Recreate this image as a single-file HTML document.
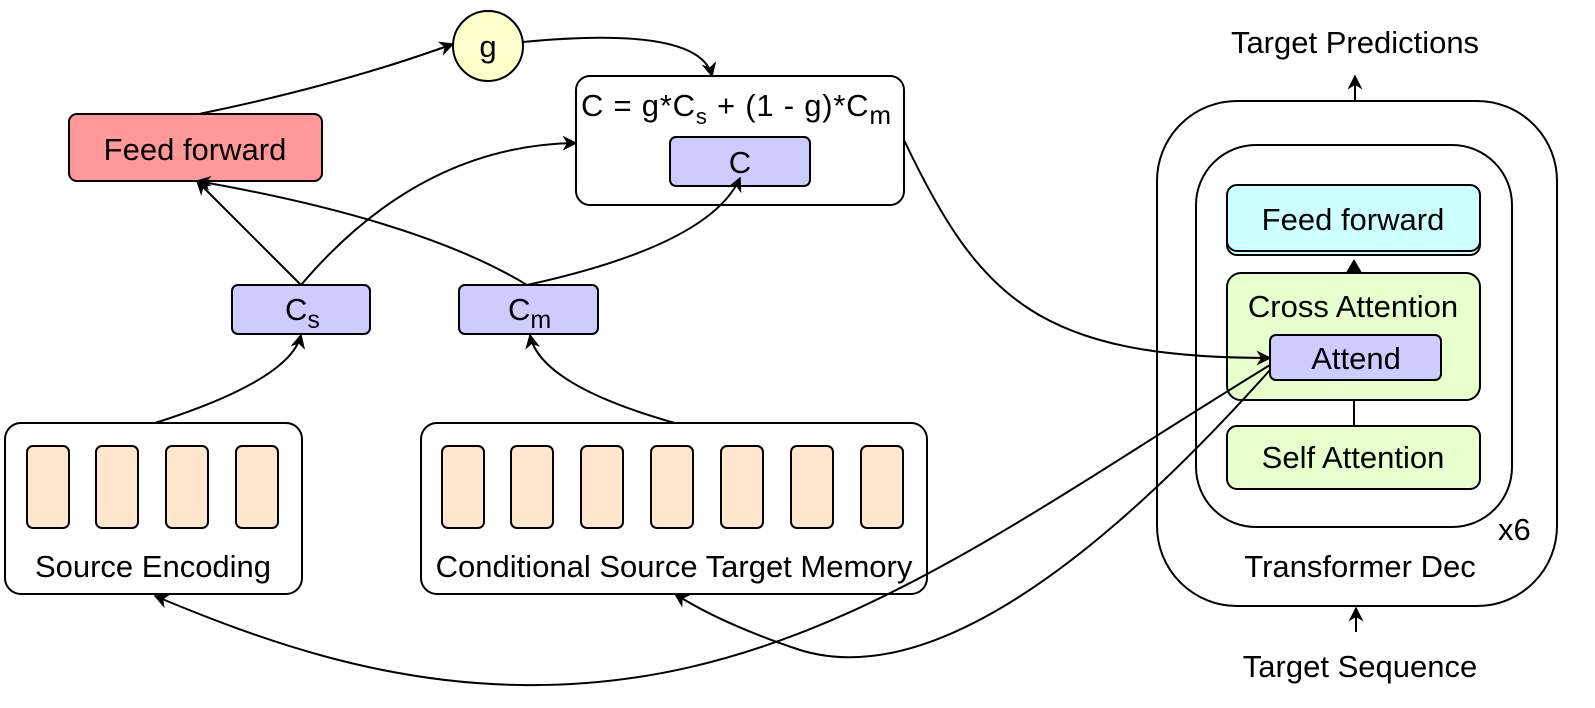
<!DOCTYPE html>
<html><head><meta charset="utf-8"><style>
body{margin:0;background:#fff}
svg text{font-family:"Liberation Sans",sans-serif;font-size:31px;fill:#000}
</style></head><body>
<svg width="1595" height="703" viewBox="0 0 1595 703" xmlns="http://www.w3.org/2000/svg">
<defs>
<marker id="b" viewBox="0 0 10 10" refX="9" refY="5" markerWidth="15" markerHeight="15" orient="auto" markerUnits="userSpaceOnUse"><path d="M0,0 L10,5 L0,10 L3,5 z" fill="#000"/></marker></defs>
<g stroke="#000" stroke-width="2" fill="none">
<rect x="1157" y="101" width="400" height="505" rx="80" fill="#fff"/>
<rect x="1196" y="145" width="316" height="382" rx="60" fill="#fff"/>
<rect x="1227" y="189" width="253" height="66" rx="10" fill="#ccffff"/>
<rect x="1227" y="185" width="253" height="66" rx="10" fill="#ccffff"/>
<line x1="1354" y1="273" x2="1354" y2="262"/><path d="M1347,273 L1354,261 L1361,273z" fill="#000"/>
<line x1="1354" y1="400" x2="1354" y2="426"/>
<rect x="1227" y="273" width="253" height="127" rx="14" fill="#e6ffcc"/>
<rect x="1270" y="335" width="171" height="45" rx="6" fill="#ccccff"/>
<rect x="1227" y="426" width="253" height="63" rx="10" fill="#e6ffcc"/>
<line x1="1355" y1="101" x2="1355" y2="76" marker-end="url(#b)"/>
<line x1="1356" y1="632" x2="1356" y2="608" marker-end="url(#b)"/>
<ellipse cx="488" cy="46" rx="35" ry="35" fill="#ffffcc"/>
<rect x="69" y="114" width="253" height="67" rx="8" fill="#ff9999"/>
<rect x="576" y="76" width="328" height="129" rx="14" fill="#fff"/>
<rect x="670" y="137" width="140" height="49" rx="6" fill="#ccccff"/>
<rect x="232" y="285" width="138" height="49" rx="6" fill="#ccccff"/>
<rect x="459" y="285" width="139" height="49" rx="6" fill="#ccccff"/>
<rect x="5" y="423" width="297" height="171" rx="16" fill="#fff"/>
<rect x="421" y="423" width="506" height="171" rx="16" fill="#fff"/>
<g fill="#ffe6cc">
<rect x="27" y="446" width="42" height="82" rx="6"/><rect x="96" y="446" width="42" height="82" rx="6"/><rect x="166" y="446" width="42" height="82" rx="6"/><rect x="236" y="446" width="42" height="82" rx="6"/>
<rect x="442" y="446" width="42" height="82" rx="6"/><rect x="511" y="446" width="42" height="82" rx="6"/><rect x="581" y="446" width="42" height="82" rx="6"/><rect x="651" y="446" width="42" height="82" rx="6"/><rect x="721" y="446" width="42" height="82" rx="6"/><rect x="791" y="446" width="42" height="82" rx="6"/><rect x="861" y="446" width="42" height="82" rx="6"/>
</g>
<path d="M199,114 Q340,85 453,44" marker-end="url(#b)"/>
<path d="M523,42 Q700,25 712,76" marker-end="url(#b)"/>
<path d="M301,285 L197,181" marker-end="url(#b)"/>
<path d="M301,285 Q420,145 576,143" marker-end="url(#b)"/>
<path d="M527,285 Q420,220 197,181" marker-end="url(#b)"/>
<path d="M527,285 Q710,245 740,178" marker-end="url(#b)"/>
<path d="M155,423 Q290,380 301,335" marker-end="url(#b)"/>
<path d="M675,423 Q540,385 530,335" marker-end="url(#b)"/>
<path d="M904,140 C980,300 1040,358 1270,358" marker-end="url(#b)"/>
<path d="M1270,365 C1000,530 800,690 520,685 C380,683 260,640 155,596" marker-end="url(#b)"/>
<path d="M1270,370 C1100,560 930,690 800,650 C740,630 700,610 675,594" marker-end="url(#b)"/>
</g>
<text x="488" y="57" text-anchor="middle">g</text>
<text x="195" y="160" text-anchor="middle">Feed forward</text>
<text x="581" y="116" textLength="310">C = g*C<tspan dy="8" font-size="22">s</tspan><tspan dy="-8"> + (1 - g)*C</tspan><tspan dy="8" font-size="26">m</tspan></text>
<text x="740" y="173" text-anchor="middle">C</text>
<text x="285" y="320">C<tspan dy="8" font-size="25">s</tspan></text>
<text x="508" y="320">C<tspan dy="8" font-size="25">m</tspan></text>
<text x="153" y="577" text-anchor="middle">Source Encoding</text>
<text x="674" y="577" text-anchor="middle">Conditional Source Target Memory</text>
<text x="1355" y="53" text-anchor="middle">Target Predictions</text>
<text x="1353" y="230" text-anchor="middle">Feed forward</text>
<text x="1353" y="317" text-anchor="middle">Cross Attention</text>
<text x="1356" y="369" text-anchor="middle">Attend</text>
<text x="1353" y="468" text-anchor="middle">Self Attention</text>
<text x="1498" y="540" font-size="27">x6</text>
<text x="1360" y="577" text-anchor="middle">Transformer Dec</text>
<text x="1360" y="677" text-anchor="middle">Target Sequence</text>
</svg>
</body></html>
